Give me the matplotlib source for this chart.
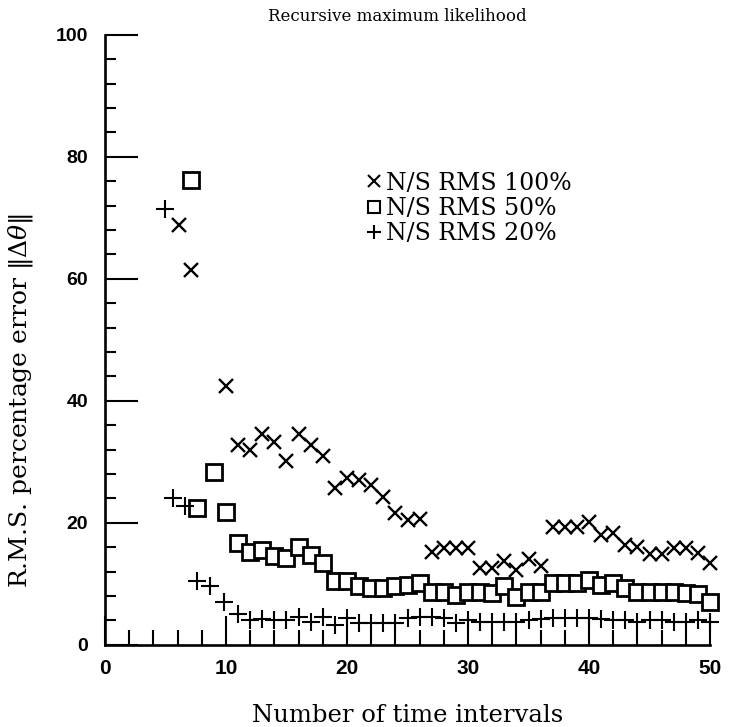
import matplotlib
matplotlib.use("Agg")
import matplotlib.pyplot as plt
from matplotlib.ticker import MultipleLocator
from matplotlib.lines import Line2D

# N/S RMS 100% (x markers)
x_100 = [6.1, 7.1, 10] + list(range(11, 51))
y_100 = [68.8, 61.4, 42.5,
         32.7, 32.0, 34.6, 33.3, 30.2, 34.5, 32.8, 31.0, 25.7, 27.3,
         27.0, 26.2, 24.2, 21.6, 20.5, 20.7, 15.2, 15.8, 15.8, 15.8,
         12.6, 12.6, 13.7, 12.3, 14.0, 12.9, 19.4, 19.4, 19.4, 20.2,
         18.0, 18.3, 16.4, 16.0, 14.9, 14.9, 15.8, 15.8, 15.0, 13.4]

# N/S RMS 50% (squares)
x_50 = [7.1, 7.6, 9, 10] + list(range(11, 51))
y_50 = [76.2, 22.5, 28.4, 21.7,
        16.7, 15.2, 15.6, 14.5, 14.2, 16.0, 14.8, 13.4, 10.4, 10.5,
        9.6, 9.3, 9.4, 9.6, 9.8, 10.1, 8.6, 8.7, 8.2, 8.7,
        8.7, 8.5, 9.6, 7.8, 8.7, 8.7, 10.1, 10.1, 10.1, 10.7,
        9.8, 10.1, 9.3, 8.7, 8.7, 8.6, 8.7, 8.5, 8.4, 7.1]

# N/S RMS 20% (plus markers)
x_20 = [5.0, 5.6, 6.6, 7.6, 8.7, 9.8] + list(range(11, 51))
y_20 = [71.5, 24.0, 22.8, 10.4, 9.6, 7.1,
        5.0, 4.1, 4.2, 4.1, 4.1, 4.6, 3.8, 4.6, 3.3, 4.4,
        3.6, 3.6, 3.6, 3.6, 4.4, 4.6, 4.6, 4.4, 3.6, 4.1,
        3.8, 3.8, 3.8, 3.8, 4.1, 4.2, 4.4, 4.4, 4.4, 4.4,
        4.2, 4.1, 4.1, 3.8, 4.0, 4.0, 3.8, 3.8, 4.0, 3.8]

labels = ["N/S RMS 100%", "N/S RMS 50%", "N/S RMS 20%"]

serif = "DejaVu Serif"
plt.rcParams["mathtext.fontset"] = "dejavuserif"

fig = plt.figure(figsize=(7.29, 7.27), dpi=100)
ax = fig.add_axes([0.144, 0.113, 0.830, 0.839])

ax.plot(x_100, y_100, linestyle="none", marker="x", markersize=9.5,
        markeredgewidth=1.7, color="black", clip_on=False)
ax.plot(x_50, y_50, linestyle="none", marker="s", markersize=11,
        markeredgewidth=2.0, markerfacecolor="white", markeredgecolor="black",
        clip_on=False)
ax.plot(x_20, y_20, linestyle="none", marker="+", markersize=12.5,
        markeredgewidth=1.5, color="black", clip_on=False)

ax.set_xlim(0, 50)
ax.set_ylim(0, 100)
for side in ["top", "right"]:
    ax.spines[side].set_visible(False)
for side in ["left", "bottom"]:
    ax.spines[side].set_linewidth(1.9)

ax.xaxis.set_major_locator(MultipleLocator(10))
ax.xaxis.set_minor_locator(MultipleLocator(2))
ax.yaxis.set_major_locator(MultipleLocator(20))
ax.yaxis.set_minor_locator(MultipleLocator(4))
ax.tick_params(axis="x", which="major", direction="in", length=21, width=1.5, pad=10)
ax.tick_params(axis="x", which="minor", direction="in", length=11, width=1.5)
ax.tick_params(axis="y", which="major", direction="in", length=24, width=1.5, pad=12)
ax.tick_params(axis="y", which="minor", direction="in", length=8, width=1.5)

for t in ax.get_xticklabels():
    t.set_fontfamily("Liberation Sans")
    t.set_fontweight("bold")
    t.set_fontsize(15)
for t in ax.get_yticklabels():
    t.set_fontfamily("Liberation Sans")
    t.set_fontweight("bold")
    t.set_fontsize(14)

ax.set_xlabel("Number of time intervals", fontfamily=serif, fontsize=17.5)
ax.xaxis.set_label_coords(0.5, -0.097)
ax.set_ylabel(r"R.M.S. percentage error $\|\Delta\theta\|$", fontfamily=serif,
              fontsize=18)
ax.yaxis.set_label_coords(-0.116, 0.40)
fig.text(0.545, 0.977, "Recursive maximum likelihood", fontfamily=serif,
         fontsize=12, ha="center", va="center")

handles = [
    Line2D([], [], linestyle="none", marker="x", markersize=8, markeredgewidth=1.5, color="black"),
    Line2D([], [], linestyle="none", marker="s", markersize=8, markeredgewidth=1.5,
           markerfacecolor="white", markeredgecolor="black"),
    Line2D([], [], linestyle="none", marker="+", markersize=10, markeredgewidth=1.5, color="black"),
]
ax.legend(handles, labels, loc="upper left", bbox_to_anchor=(0.412, 0.795),
          frameon=False, handlelength=0.7, handletextpad=0.15, labelspacing=0.1,
          borderpad=0, prop={"family": serif, "size": 17})

fig.savefig("out.png", dpi=100)
